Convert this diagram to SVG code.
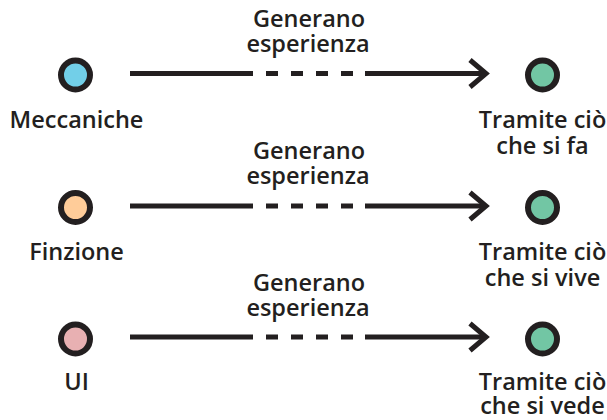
<svg xmlns="http://www.w3.org/2000/svg" width="607" height="420" viewBox="0 0 607 420">
<defs>
<style>
.t{font-family:"Open Sans","Liberation Sans",sans-serif;font-weight:600;font-size:23.5px;fill:#231f20;text-anchor:middle}
.n{stroke:#231f20;stroke-width:6}
.ln{stroke:#231f20;stroke-width:5;fill:none}
.dash{stroke-dasharray:12 13}
.ah{stroke:#231f20;stroke-width:5;fill:none;stroke-linecap:butt;stroke-linejoin:miter}
</style>
</defs>
<rect width="607" height="420" fill="#ffffff"/>
<g id="connectors">
<g id="c1">
<line class="ln" x1="130" y1="73.5" x2="253" y2="73.5"/>
<line class="ln dash" x1="266" y1="73.5" x2="353" y2="73.5"/>
<line class="ln" x1="365" y1="73.5" x2="486" y2="73.5"/>
<polyline class="ah" points="470,60 486,73.5 470,87"/>
</g>
<g id="c2">
<line class="ln" x1="130" y1="206" x2="253" y2="206"/>
<line class="ln dash" x1="266" y1="206" x2="353" y2="206"/>
<line class="ln" x1="365" y1="206" x2="486" y2="206"/>
<polyline class="ah" points="470,192.5 486,206 470,219.5"/>
</g>
<g id="c3">
<line class="ln" x1="130" y1="337" x2="253" y2="337"/>
<line class="ln dash" x1="266" y1="337" x2="353" y2="337"/>
<line class="ln" x1="365" y1="337" x2="486" y2="337"/>
<polyline class="ah" points="470,323.5 486,337 470,350.5"/>
</g>
</g>
<g id="label1"><text class="t" x="309" y="27">Generano</text><text class="t" x="308" y="52">esperienza</text></g>
<g id="label2"><text class="t" x="309" y="159">Generano</text><text class="t" x="308" y="184">esperienza</text></g>
<g id="label3"><text class="t" x="309" y="291">Generano</text><text class="t" x="308" y="316">esperienza</text></g>
<g id="meccaniche"><circle class="n" cx="75.5" cy="75" r="14.5" fill="#72cfe8"/><text class="t" x="76.5" y="128">Meccaniche</text></g>
<g id="finzione"><circle class="n" cx="75.5" cy="207.5" r="14.5" fill="#ffcc99"/><text class="t" x="76.5" y="260">Finzione</text></g>
<g id="ui"><circle class="n" cx="75.5" cy="339" r="14.5" fill="#e8b0b2"/><text class="t" x="76.5" y="390">UI</text></g>
<g id="fa"><circle class="n" cx="542.5" cy="75" r="14.5" fill="#72c6a4"/><text class="t" x="542.5" y="128">Tramite ciò</text><text class="t" x="542.5" y="154">che si fa</text></g>
<g id="vive"><circle class="n" cx="542.5" cy="207.5" r="14.5" fill="#72c6a4"/><text class="t" x="542.5" y="260">Tramite ciò</text><text class="t" x="542.5" y="286">che si vive</text></g>
<g id="vede"><circle class="n" cx="542.5" cy="339" r="14.5" fill="#72c6a4"/><text class="t" x="542.5" y="390">Tramite ciò</text><text class="t" x="542.5" y="414">che si vede</text></g>
</svg>
